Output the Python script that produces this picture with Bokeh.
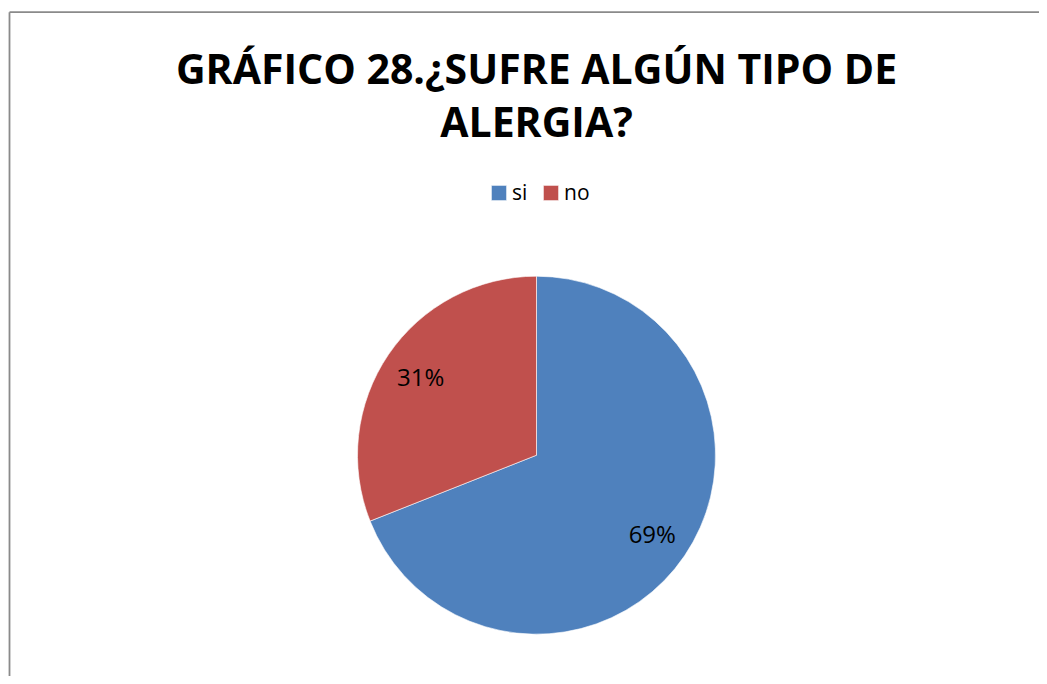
import math
from bokeh.plotting import figure
from bokeh.models import Range1d, ColumnDataSource, Legend, LegendItem, Label
from bokeh.core.properties import value
from bokeh.embed import file_html
from bokeh.resources import INLINE

# ---- data ----
categories = ["si", "no"]
percents = [69, 31]
colors = ["#4F81BD", "#C0504D"]
title_lines = ["GRÁFICO 28.¿SUFRE ALGÚN TIPO DE", "ALERGIA?"]

W, H = 1039, 676
p = figure(width=W, height=H, output_backend="svg", toolbar_location=None,
           x_range=Range1d(0, W), y_range=Range1d(0, H), min_border=0)
p.axis.visible = False
p.xgrid.visible = False
p.ygrid.visible = False
p.outline_line_color = None
p.background_fill_color = "white"
p.border_fill_color = "white"

# chart area border (only the left & top edges fall inside the view)
bx, by = 9, H - 11.7
p.segment(x0=[bx, bx], y0=[by, by], x1=[bx, W + 50], y1=[-50, by],
          line_color="#8a8a8a", line_width=1.8)

# pie geometry
cx, cy, r = 536, H - 454.7, 179
total = sum(percents)
starts, ends, mids = [], [], []
a = math.pi / 2
for v in percents:
    span = v / total * 2 * math.pi
    starts.append(a)
    ends.append(a - span)
    mids.append(a - span / 2)
    a -= span

src = ColumnDataSource(dict(
    x=[cx] * len(categories), y=[cy] * len(categories),
    start=starts, end=ends, color=colors, cat=categories,
    lx=[cx + 140 * math.cos(m) for m in mids],
    ly=[cy + 140 * math.sin(m) for m in mids],
    lab=[f"{v}%" for v in percents],
))

w = p.wedge(x="x", y="y", radius=r, start_angle="start", end_angle="end",
            direction="clock", fill_color="color", line_color="white",
            line_width=0.6, source=src)

p.text(x="lx", y="ly", text="lab", source=src, text_align="center",
       text_baseline="middle", text_font=value("Open Sans"),
       text_font_size="24px", text_color="black")

# title
for i, t in enumerate(title_lines):
    p.add_layout(Label(x=536, y=H - 67 - i * 53, text=t, text_align="center",
                       text_baseline="alphabetic", text_font="Open Sans",
                       text_font_style="bold", text_font_size="41px",
                       text_color="black"))

legend = Legend(items=[LegendItem(label=c, renderers=[w], index=i)
                       for i, c in enumerate(categories)],
                orientation="horizontal", location=(489, 470),
                glyph_width=19, glyph_height=19, label_standoff=4, spacing=9,
                padding=0, margin=0, border_line_color=None,
                background_fill_alpha=0,
                label_text_font="Open Sans", label_text_font_size="21px",
                label_text_color="black")
p.add_layout(legend)

open("out.html", "w").write(file_html(p, INLINE))
